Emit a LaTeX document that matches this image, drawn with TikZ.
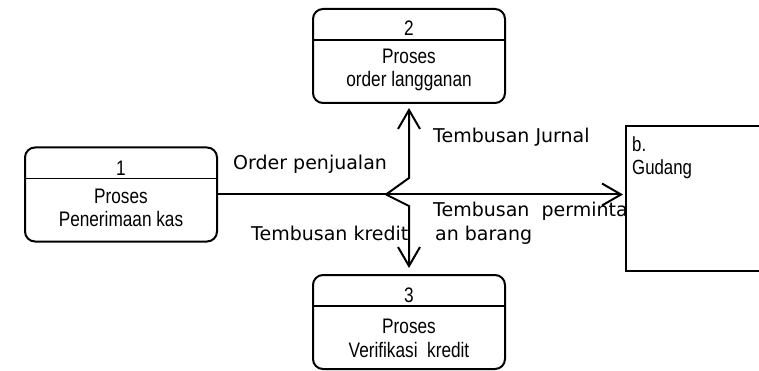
\documentclass[tikz,border=0pt]{standalone}
\usepackage{fontspec}
\setmainfont{Liberation Sans}
\newfontfamily\narrowfont[FakeStretch=0.82]{Liberation Sans}
\newfontfamily\labelfont{DejaVu Sans}
\usetikzlibrary{arrows.meta,calc}

\begin{document}
\begin{tikzpicture}[x=1pt,y=-1pt,
  procbox/.style={draw, line width=2pt, rounded corners=10pt,
    minimum width=192pt, minimum height=94pt, inner sep=0pt},
  storebox/.style={draw, line width=2pt, minimum width=160pt,
    minimum height=145pt, anchor=north west, inner sep=0pt},
  divider/.style={line width=1.6pt},
  boxtext/.style={font=\narrowfont\fontsize{21}{24}\selectfont, anchor=base, inner sep=0pt},
  storetext/.style={font=\narrowfont\fontsize{20.5}{24}\selectfont, anchor=base west, inner sep=0pt},
  flowlabel/.style={font=\labelfont\fontsize{19}{22}\selectfont,
    anchor=base west, inner sep=0pt},
  flow/.style={line width=2pt, -{Straight Barb[length=19pt,width=22pt]}}]
\useasboundingbox (0,0) rectangle (759,371);

% processes
\node[procbox] (p1) at (121,194.5) {};
\node[procbox] (p2) at (409,56) {};
\node[procbox] (p3) at (409,322) {};
\foreach \p in {p1,p2,p3}
  \draw[divider] ($(\p.north west)+(0,32)$) -- ($(\p.north east)+(0,32)$);

\node[boxtext] (n1) at ($(p1.north)+(0,29)$) {1};
\node[boxtext] (a1) at ($(p1.north)+(0,57)$) {Proses};
\node[boxtext] (b1) at ($(p1.north)+(0,80)$) {Penerimaan kas};

\node[boxtext] (n2) at ($(p2.north)+(0,28)$) {2};
\node[boxtext] (a2) at ($(p2.north)+(0,56)$) {Proses};
\node[boxtext] (b2) at ($(p2.north)+(0,79)$) {order langganan};

\node[boxtext] (n3) at ($(p3.north)+(0,28)$) {3};
\node[boxtext] (a3) at ($(p3.north)+(0,59)$) {Proses};
\node[boxtext] (b3) at ($(p3.north)+(0,83)$) {Verifikasi\ \ kredit};

% data store
\node[storebox] (g) at (625,125) {};
\node[storetext] (gb) at (632,152) {b.};
\node[storetext] (gn) at (632,175) {Gudang};

% flows
\coordinate (k)  at (386,194.5);
\coordinate (ku) at (409,178);
\coordinate (kd) at (409,206);
\draw[flow, shorten >=2pt] (p1.east) -- (p1.east -| g.west);
\draw[flow, shorten >=4pt] (k) -- (ku) -- (p2.south);
\draw[flow, shorten >=6pt] (k) -- (kd) -- (p3.north);

% flow labels
\node[flowlabel] (l1) at (233,170) {Order penjualan};
\node[flowlabel] (l2) at (433,143) {Tembusan Jurnal};
\node[flowlabel] (l3) at (433,217) {Tembusan\ \ perminta};
\node[flowlabel] (l4) at (435,240) {an barang};
\node[flowlabel] (l5) at (251,240) {Tembusan kredit};
\end{tikzpicture}
\end{document}
